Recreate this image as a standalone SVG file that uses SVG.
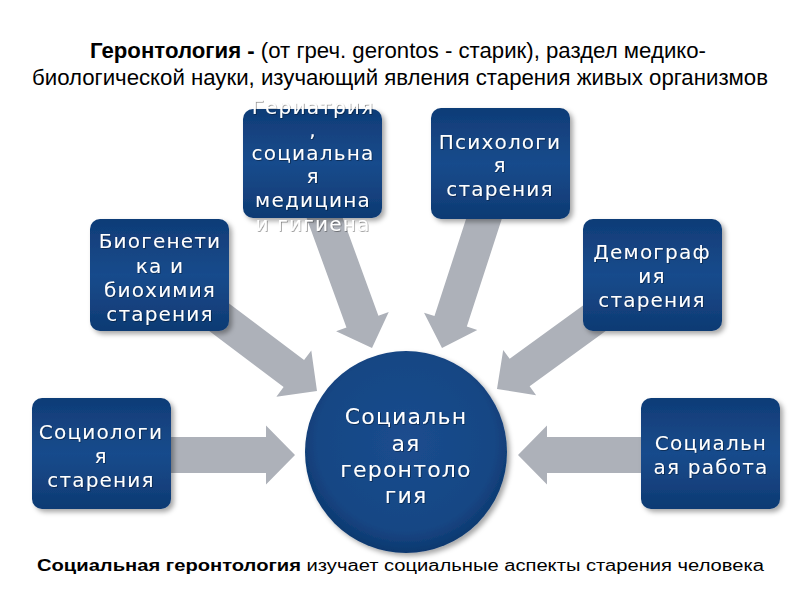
<svg xmlns="http://www.w3.org/2000/svg" width="800" height="600" viewBox="0 0 800 600">
<defs>
<linearGradient id="boxg" x1="0" y1="0" x2="0" y2="1">
<stop offset="0" stop-color="#0f3c77"/>
<stop offset="0.5" stop-color="#194b8c"/>
<stop offset="1" stop-color="#0e3a73"/>
</linearGradient>
<radialGradient id="circg" cx="0.5" cy="0.45" r="0.55">
<stop offset="0" stop-color="#1b4d8e"/>
<stop offset="0.8" stop-color="#164684"/>
<stop offset="1" stop-color="#0d386e"/>
</radialGradient>
<filter id="sh" x="-10%" y="-10%" width="125%" height="125%">
<feDropShadow dx="3" dy="3" stdDeviation="2.5" flood-color="#000" flood-opacity="0.35"/>
</filter>
<filter id="tsh" x="-10%" y="-20%" width="120%" height="140%">
<feDropShadow dx="0.8" dy="0.8" stdDeviation="0.6" flood-color="#000" flood-opacity="0.45"/>
</filter>
</defs>
<style>
.box{fill:url(#boxg);filter:url(#sh)}
.arr{fill:#adb1b9}
.t{font-family:"DejaVu Sans",Verdana,sans-serif;font-size:20px;fill:#ffffff;text-anchor:middle;letter-spacing:1.2px;filter:url(#tsh)}
.ct{font-size:22px}
.title{font-family:"Liberation Sans",Arial,sans-serif;font-size:22px;fill:#000}
.foot{font-family:"Liberation Sans",Arial,sans-serif;font-size:16px;fill:#000}
.b{font-weight:bold}
</style>
<rect width="800" height="600" fill="#ffffff"/>

<g id="title">
<text class="title" x="90" y="58" textLength="616" lengthAdjust="spacingAndGlyphs"><tspan class="b">Геронтология -</tspan> (от греч. gerontos - старик), раздел медико-</text>
<text class="title" x="32" y="85" textLength="736" lengthAdjust="spacingAndGlyphs">биологической науки, изучающий явления старения живых организмов</text>
</g>

<g id="connectors">
<polygon class="arr" transform="translate(295,455)" points="-130,-18 -29,-18 -29,-29.5 0,0 -29,29.5 -29,18 -130,18"/>
<polygon class="arr" transform="translate(518,455) rotate(180)" points="-130,-18 -29,-18 -29,-29.5 0,0 -29,29.5 -29,18 -130,18"/>
<polygon class="arr" transform="translate(317,391) rotate(37)" points="-145,-17 -29,-17 -29,-29 0,0 -29,29 -29,17 -145,17"/>
<polygon class="arr" transform="translate(372,348) rotate(70)" points="-145,-17 -28,-17 -28,-28 0,0 -28,28 -28,17 -145,17"/>
<polygon class="arr" transform="translate(442,348) rotate(108)" points="-145,-17 -28,-17 -28,-28 0,0 -28,28 -28,17 -145,17"/>
<polygon class="arr" transform="translate(497,389) rotate(144)" points="-145,-17 -28,-17 -28,-28 0,0 -28,28 -28,17 -145,17"/>
</g>

<g id="node-geriatrics">
<rect class="box" x="243" y="109" width="139" height="109" rx="10"/>
<text class="t"><tspan x="313" y="114">Гериатрия</tspan><tspan x="313" y="137">,</tspan><tspan x="313" y="160">социальна</tspan><tspan x="313" y="183">я</tspan><tspan x="313" y="207">медицина</tspan><tspan x="313" y="231">и гигиена</tspan></text>
</g>

<g id="node-psychology">
<rect class="box" x="431" y="108" width="139" height="111" rx="10"/>
<text class="t"><tspan x="500" y="149">Психологи</tspan><tspan x="500" y="172">я</tspan><tspan x="500" y="196">старения</tspan></text>
</g>

<g id="node-biogenetics">
<rect class="box" x="90" y="219" width="139" height="112" rx="10"/>
<text class="t"><tspan x="160" y="248">Биогенети</tspan><tspan x="160" y="273">ка и</tspan><tspan x="160" y="297">биохимия</tspan><tspan x="160" y="321">старения</tspan></text>
</g>

<g id="node-demography">
<rect class="box" x="583" y="219" width="139" height="112" rx="10"/>
<text class="t"><tspan x="652" y="259">Демограф</tspan><tspan x="652" y="283">ия</tspan><tspan x="652" y="307">старения</tspan></text>
</g>

<g id="node-sociology">
<rect class="box" x="32" y="398" width="139" height="111" rx="10"/>
<text class="t"><tspan x="101" y="439">Социологи</tspan><tspan x="101" y="463">я</tspan><tspan x="101" y="487">старения</tspan></text>
</g>

<g id="node-socialwork">
<rect class="box" x="641" y="398" width="139" height="111" rx="10"/>
<text class="t"><tspan x="711" y="450">Социальн</tspan><tspan x="711" y="474">ая работа</tspan></text>
</g>

<g id="node-center">
<circle cx="406" cy="452" r="101" fill="url(#circg)" filter="url(#sh)"/>
<text class="t ct"><tspan x="406" y="424">Социальн</tspan><tspan x="406" y="451">ая</tspan><tspan x="406" y="477">геронтоло</tspan><tspan x="406" y="503">гия</tspan></text>
</g>

<g id="footer">
<text class="foot" x="37" y="571" textLength="727" lengthAdjust="spacingAndGlyphs"><tspan class="b">Социальная геронтология</tspan> изучает социальные аспекты старения человека</text>
</g>
</svg>
